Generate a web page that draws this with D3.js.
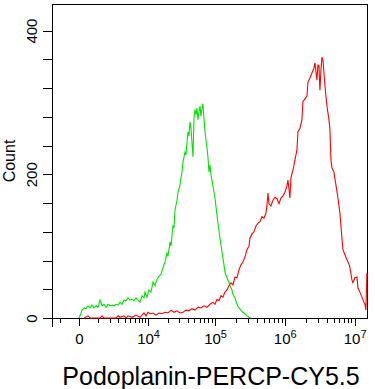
<!DOCTYPE html>
<meta charset="utf-8">
<script src="https://d3js.org/d3.v7.min.js"></script>
<style>
  body { margin: 0; background: #fff; }
  svg text { font-family: "Liberation Sans", Arial, sans-serif; fill: #000; }
</style>
<div id="chart"></div>
<script>
// histogram of the control (green) and the stained sample (red)
const greenFluor = [0, 38, 119, 206, 298, 396, 501, 614, 734, 862, 999, 1145, 1301, 1467, 1645, 1835, 2038, 2255, 2487, 2734,
  2998, 3280, 3581, 3903, 4247, 4614, 5006, 5424, 5871, 6349, 6859, 7403, 7985, 8606, 8932, 9618, 10350, 11130, 11970, 12860,
  13810, 14830, 15920, 17080, 18320, 19640, 20340, 21800, 22560, 24180, 25020, 25900, 27740, 28700, 30730, 31800, 32900, 34040, 36430, 37690,
  38990, 40330, 41720, 43150, 44630, 47750, 49380, 51070, 52820, 54620, 56490, 58410, 60410, 62470, 64590, 66790, 69060, 71410, 73840, 76340,
  78940, 81610, 84380, 87240, 90200, 96410, 99670, 106500, 110100, 117700, 125800, 134400, 138900, 148500, 158600, 164000, 175200, 181100, 193500, 206700,
  220900, 236000, 252100, 269300, 287700, 307400, 328300];
const greenCount = [0, 3, 11, 14, 13, 17, 14, 18, 14, 17, 15, 25, 17, 19, 15, 19, 17, 18, 17, 19,
  18, 22, 19, 25, 24, 28, 25, 26, 24, 28, 25, 22, 31, 28, 36, 29, 39, 36, 50, 45,
  54, 58, 61, 70, 78, 90, 86, 106, 100, 129, 125, 150, 164, 175, 185, 195, 203, 217, 231, 227,
  245, 259, 253, 273, 264, 224, 278, 290, 283, 292, 276, 287, 295, 281, 292, 298, 278, 259, 248, 237,
  223, 203, 213, 199, 192, 175, 167, 143, 132, 111, 92, 74, 64, 56, 49, 45, 39, 33, 28, 19,
  14, 11, 8, 6, 3, 1, 0];

const redFluor = [206, 396, 501, 1145, 1301, 1467, 2734, 2998, 3280, 3903, 4247, 4614, 5424, 6349, 7403, 8606, 9269, 9978, 10730, 11970,
  13330, 14830, 16490, 18320, 20340, 22560, 25020, 27740, 30730, 34040, 37690, 41720, 46160, 51070, 56490, 62470, 69060, 76340, 84380, 93250,
  99670, 106500, 113900, 121700, 130000, 138900, 148500, 158600, 169500, 181100, 193500, 206700, 220900, 236000, 252100, 269300, 287700, 307400, 317700, 339400,
  362500, 387200, 413700, 441900, 472000, 504200, 538500, 556600, 575200, 594500, 635000, 678200, 724500, 773800, 826500, 882800, 942900, 1007000, 1076000, 1112000,
  1187000, 1227000, 1311000, 1400000, 1495000, 1545000, 1650000, 1762000, 1821000, 1945000, 2078000, 2147000, 2293000, 2450000, 2616000, 2704000, 2888000, 2984000, 3084000, 3187000,
  3294000, 3404000, 3518000, 3635000, 3757000, 4013000, 4286000, 4429000, 4577000, 4730000, 5052000, 5396000, 5763000, 6154000, 6573000, 6793000, 7255000, 7748000, 8275000, 8552000,
  9134000, 9439000, 10080000, 10770000, 11130000, 11880000, 12690000, 13560000, 14010000, 14480000, 14950000];
const redCount = [0, 3, 0, 0, 3, 0, 0, 3, 1, 3, 0, 3, 1, 4, 1, 7, 3, 8, 6, 7,
  4, 7, 6, 8, 7, 11, 8, 10, 7, 8, 11, 10, 13, 11, 15, 14, 17, 15, 19, 22,
  19, 26, 24, 31, 29, 36, 39, 45, 49, 46, 57, 56, 67, 74, 78, 85, 95, 100, 111, 117,
  120, 128, 132, 134, 141, 139, 146, 157, 174, 159, 156, 164, 168, 166, 159, 167, 170, 175, 184, 192,
  167, 195, 206, 220, 234, 259, 264, 276, 301, 305, 309, 328, 334, 341, 348, 355, 331, 352, 351, 317,
  345, 363, 359, 342, 323, 295, 276, 262, 220, 209, 203, 185, 167, 146, 111, 95, 88, 81, 75, 70,
  53, 49, 56, 57, 42, 36, 29, 22, 19, 11, 63];

// axis ticks
const xMajor = [0, 1e4, 1e5, 1e6, 1e7];
const xMajorExp = ["0", "4", "5", "6", "7"];
const xMinor = [-1000, 1000, 2000, 3000, 4000, 5000, 6000, 7000, 8000, 9000,
  2e4, 3e4, 4e4, 5e4, 6e4, 7e4, 8e4, 9e4,
  2e5, 3e5, 4e5, 5e5, 6e5, 7e5, 8e5, 9e5,
  2e6, 3e6, 4e6, 5e6, 6e6, 7e6, 8e6, 9e6];
const yTicks = [0, 40, 80, 120, 160, 200, 240, 280, 320, 360, 400];
const yLabels = [0, 200, 400];

const width = 375, height = 389;
const svg = d3.select("#chart").append("svg")
  .attr("width", width)
  .attr("height", height);

const x = d3.scaleSymlog().constant(1150).domain([-1650, 1.5e7]).range([52, 367]);
const y = d3.scaleLinear().domain([0, 437]).range([318, 4]);

// frame (top + right) and y axis stub below the corner
const frame = svg.append("g").attr("stroke", "#000").attr("shape-rendering", "crispEdges");
frame.append("line").attr("x1", x.range()[0]).attr("x2", x.range()[1]).attr("y1", y.range()[1]).attr("y2", y.range()[1]);
frame.append("line").attr("x1", x.range()[1]).attr("x2", x.range()[1]).attr("y1", y.range()[1]).attr("y2", y.range()[0]);
frame.append("line").attr("x1", x.range()[0]).attr("x2", x.range()[0]).attr("y1", y.range()[0]).attr("y2", y.range()[0] + 9);

// x axis: minor ticks, then major with labels
svg.append("g")
  .attr("transform", `translate(0,${y(0)})`)
  .attr("shape-rendering", "crispEdges")
  .call(d3.axisBottom(x).tickValues(xMinor).tickSize(5).tickSizeOuter(0).tickFormat(""));

const gxMajor = svg.append("g")
  .attr("transform", `translate(0,${y(0)})`)
  .attr("shape-rendering", "crispEdges")
  .call(d3.axisBottom(x).tickValues(xMajor).tickSize(8).tickSizeOuter(0).tickFormat(""));
gxMajor.select(".domain").remove();
gxMajor.selectAll(".tick text").each(function(d, i) {
  const t = d3.select(this)
    .attr("y", 26)
    .attr("dy", null)
    .style("font-size", "15px")
    .attr("shape-rendering", null);
  if (d === 0) {
    t.text("0");
  } else {
    t.append("tspan").text("10");
    t.append("tspan").attr("dy", -6).style("font-size", "11px").text(xMajorExp[i]);
  }
});

// y axis
const gy = svg.append("g")
  .attr("transform", `translate(${x.range()[0]},0)`)
  .attr("shape-rendering", "crispEdges")
  .call(d3.axisLeft(y).tickValues(yTicks).tickSize(9).tickSizeOuter(0)
    .tickFormat(d => yLabels.includes(d) ? d : ""));
gy.selectAll(".tick text")
  .attr("x", 0)
  .attr("dy", 0)
  .attr("transform", "translate(-15,0) rotate(-90)")
  .style("text-anchor", "middle")
  .style("font-size", "15px");

// histograms
const line = d3.line()
  .x(d => x(d[0]))
  .y(d => y(d[1]));

svg.append("path")
  .datum(d3.zip(greenFluor, greenCount))
  .attr("fill", "none")
  .attr("stroke", "#00e400")
  .attr("stroke-width", 1.1)
  .attr("d", line);

svg.append("path")
  .datum(d3.zip(redFluor, redCount))
  .attr("fill", "none")
  .attr("stroke", "#ff0000")
  .attr("stroke-width", 1.1)
  .attr("d", line);

// axis titles
svg.append("text")
  .attr("transform", `translate(15,${(y(0) + y(437)) / 2}) rotate(-90)`)
  .attr("text-anchor", "middle")
  .style("font-size", "16px")
  .text("Count");

svg.append("text")
  .attr("x", 211)
  .attr("y", 385)
  .attr("text-anchor", "middle")
  .style("font-size", "25px")
  .text("Podoplanin-PERCP-CY5.5");
</script>
